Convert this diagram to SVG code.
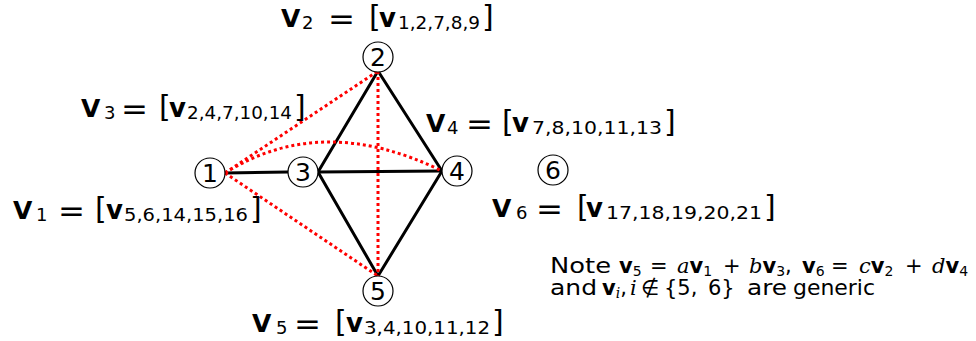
<svg xmlns="http://www.w3.org/2000/svg" width="976" height="341" viewBox="0 0 976 341">
<style>
.edge{stroke:#000;stroke-width:3;fill:none;stroke-linecap:round}
.dot{stroke:#ff0000;stroke-width:3;fill:none;stroke-dasharray:3 3}
.nc{fill:#fff;stroke:#000;stroke-width:1.2}
.nt{font-family:"DejaVu Sans",sans-serif;font-size:25px;text-anchor:middle;fill:#000}
.L{font-family:"DejaVu Sans",sans-serif;fill:#000}
.V{font-weight:bold;font-size:25px}
.vb{font-weight:bold;font-size:26px}
.sub{font-size:18px}
.eq{font-size:30px}
.br{font-size:30px}
.note{font-family:"DejaVu Sans",sans-serif;font-size:21px;fill:#000}
.b{font-weight:bold}
.i{font-family:"DejaVu Serif",serif;font-style:italic}
.s{font-size:14px}
</style>
<rect width="976" height="341" fill="#fff"/>
<g id="connectors">
<line class="edge" x1="225" y1="173" x2="288" y2="172"/>
<line class="edge" x1="318" y1="172" x2="442" y2="171"/>
<line class="edge" x1="318" y1="172" x2="378" y2="71"/>
<line class="edge" x1="378" y1="71" x2="442" y2="171"/>
<line class="edge" x1="318" y1="172" x2="378" y2="276"/>
<line class="edge" x1="442" y1="171" x2="378" y2="276"/>
<line class="dot" x1="225" y1="173" x2="378" y2="71"/>
<path class="dot" d="M225,173 Q322,112 442,171"/>
<line class="dot" x1="225" y1="173" x2="378" y2="276"/>
<line class="dot" x1="378" y1="71" x2="378" y2="276"/>
</g>
<g id="node1"><circle class="nc" cx="210" cy="173" r="15"/><text class="nt" x="210" y="182">1</text></g>
<g id="node2"><circle class="nc" cx="378" cy="57" r="15"/><text class="nt" x="378" y="66">2</text></g>
<g id="node3"><circle class="nc" cx="303" cy="172" r="15"/><text class="nt" x="303" y="181">3</text></g>
<g id="node4"><circle class="nc" cx="457" cy="171" r="15"/><text class="nt" x="457" y="180">4</text></g>
<g id="node5"><circle class="nc" cx="378" cy="291" r="15"/><text class="nt" x="378" y="300">5</text></g>
<g id="node6"><circle class="nc" cx="553" cy="170" r="15"/><text class="nt" x="553" y="179">6</text></g>

<g id="label1" class="L">
<text class="V" x="13" y="219">V</text><text class="sub" x="36" y="221">1</text>
<text class="eq" x="58" y="221" textLength="27" lengthAdjust="spacingAndGlyphs">=</text>
<text class="br" x="95" y="219">[</text><text class="vb" x="106" y="219">v</text>
<text class="sub" x="124" y="221" textLength="124" lengthAdjust="spacingAndGlyphs">5,6,14,15,16</text>
<text class="br" x="250" y="219">]</text>
</g>
<g id="label2" class="L">
<text class="V" x="281" y="27">V</text><text class="sub" x="302" y="29">2</text>
<text class="eq" x="328" y="29" textLength="27" lengthAdjust="spacingAndGlyphs">=</text>
<text class="br" x="369" y="27">[</text><text class="vb" x="379" y="27">v</text>
<text class="sub" x="398" y="29" textLength="82" lengthAdjust="spacingAndGlyphs">1,2,7,8,9</text>
<text class="br" x="482" y="27">]</text>
</g>
<g id="label3" class="L">
<text class="V" x="81" y="117">V</text><text class="sub" x="104" y="119">3</text>
<text class="eq" x="121" y="119" textLength="27" lengthAdjust="spacingAndGlyphs">=</text>
<text class="br" x="159" y="117">[</text><text class="vb" x="169" y="117">v</text>
<text class="sub" x="187" y="119" textLength="105" lengthAdjust="spacingAndGlyphs">2,4,7,10,14</text>
<text class="br" x="294" y="117">]</text>
</g>
<g id="label4" class="L">
<text class="V" x="426" y="132">V</text><text class="sub" x="447" y="134">4</text>
<text class="eq" x="466" y="134" textLength="27" lengthAdjust="spacingAndGlyphs">=</text>
<text class="br" x="502" y="132">[</text><text class="vb" x="512" y="132">v</text>
<text class="sub" x="532" y="134" textLength="130" lengthAdjust="spacingAndGlyphs">7,8,10,11,13</text>
<text class="br" x="664" y="132">]</text>
</g>
<g id="label5" class="L">
<text class="V" x="252" y="332">V</text><text class="sub" x="276" y="334">5</text>
<text class="eq" x="294" y="334" textLength="27" lengthAdjust="spacingAndGlyphs">=</text>
<text class="br" x="335" y="332">[</text><text class="vb" x="346" y="332">v</text>
<text class="sub" x="364" y="334" textLength="126" lengthAdjust="spacingAndGlyphs">3,4,10,11,12</text>
<text class="br" x="492" y="332">]</text>
</g>
<g id="label6" class="L">
<text class="V" x="492" y="217">V</text><text class="sub" x="516" y="219">6</text>
<text class="eq" x="536" y="219" textLength="27" lengthAdjust="spacingAndGlyphs">=</text>
<text class="br" x="577" y="217">[</text><text class="vb" x="586" y="217">v</text>
<text class="sub" x="606" y="219" textLength="156" lengthAdjust="spacingAndGlyphs">17,18,19,20,21</text>
<text class="br" x="764" y="217">]</text>
</g>

<g id="note" class="note">
<text x="550" y="273" textLength="61" lengthAdjust="spacingAndGlyphs">Note</text>
<text y="273"><tspan x="619" class="b">v</tspan><tspan class="s" y="276">5</tspan><tspan x="650" y="273">=</tspan><tspan x="677" class="i">a</tspan><tspan class="b">v</tspan><tspan class="s" y="276">1</tspan><tspan x="723" y="273">+</tspan><tspan x="749" class="i">b</tspan><tspan class="b">v</tspan><tspan class="s" y="276">3</tspan><tspan y="273">,</tspan><tspan x="802" class="b">v</tspan><tspan class="s" y="276">6</tspan><tspan x="831" y="273">=</tspan><tspan x="859" class="i">c</tspan><tspan class="b">v</tspan><tspan class="s" y="276">2</tspan><tspan x="905" y="273">+</tspan><tspan x="932" class="i">d</tspan><tspan class="b">v</tspan><tspan class="s" y="276">4</tspan></text>
<text x="550" y="295" textLength="47" lengthAdjust="spacingAndGlyphs">and</text>
<text y="295"><tspan x="602" class="b">v</tspan><tspan class="s i" y="298">i</tspan><tspan y="295">,</tspan><tspan x="630" class="i">i</tspan><tspan x="641">∉</tspan><tspan x="664">{5,</tspan><tspan x="708">6}</tspan></text>
<text x="747" y="295" textLength="40" lengthAdjust="spacingAndGlyphs">are</text>
<text x="793" y="295" textLength="82" lengthAdjust="spacingAndGlyphs">generic</text>
</g>
</svg>
